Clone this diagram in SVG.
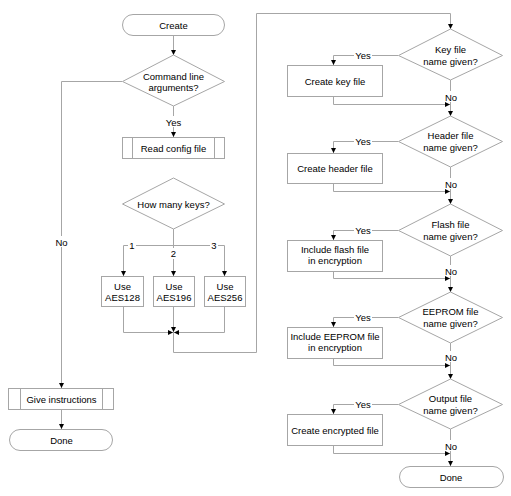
<svg xmlns="http://www.w3.org/2000/svg" width="511" height="496" viewBox="0 0 511 496">
<defs>
<style>
.s{fill:#fff;stroke:#a6a6a6;stroke-width:1}
.c{fill:none;stroke:#a6a6a6;stroke-width:1}
.a{marker-end:url(#ah)}
text{font-family:"Liberation Sans",Arial,sans-serif;font-size:9.5px;fill:#000;text-anchor:middle}
.bg{fill:#fff;stroke:none}
</style>
<marker id="ah" viewBox="0 0 6 6" refX="6" refY="3" markerWidth="5" markerHeight="5" orient="auto" markerUnits="userSpaceOnUse">
<path d="M0,0 L6,3 L0,6 z" fill="#000"/>
</marker>
</defs>
<rect width="511" height="496" fill="#fff"/>
<g id="connectors">
<path class="c a" d="M173.5,35 V55"/>
<path class="c a" d="M173.5,106 V137"/>
<path class="c a" d="M122,81.5 H61.5 V388"/>
<path class="c a" d="M61.5,409 V429"/>
<path class="c" d="M173.5,229 V245.5 M123.5,245.5 H224.5"/>
<path class="c a" d="M123.5,245.5 V276"/>
<path class="c a" d="M173.5,245.5 V276"/>
<path class="c a" d="M224.5,245.5 V276"/>
<path class="c a" d="M123.5,306 V332.5 H173"/>
<path class="c a" d="M224.5,306 V332.5 H174"/>
<path class="c a" d="M173.5,306 V332"/>
<path class="c a" d="M173.5,332 V352.5 H256.5 V13.5 H450.5 V29"/>
<path class="c a" d="M398,55.5 H333.5 V65"/>
<path class="c a" d="M333.5,97 V104.5 H450"/>
<path class="c a" d="M450.5,80 V116"/>
<path class="c a" d="M398,141.5 H333.5 V153"/>
<path class="c a" d="M333.5,183 V191.5 H450"/>
<path class="c a" d="M450.5,167 V204"/>
<path class="c a" d="M398,230.5 H333.5 V240"/>
<path class="c a" d="M333.5,271 V278.5 H450"/>
<path class="c a" d="M450.5,256 V292"/>
<path class="c a" d="M398,317.5 H333.5 V327"/>
<path class="c a" d="M333.5,358 V365.5 H450"/>
<path class="c a" d="M450.5,343 V379"/>
<path class="c a" d="M398,404.5 H333.5 V414"/>
<path class="c a" d="M333.5,445 V453.5 H450"/>
<path class="c a" d="M450.5,429 V466"/>
<rect class="bg" x="165" y="116" width="17" height="11"/>
<text x="173.5" y="125.5">Yes</text>
<rect class="bg" x="53" y="236" width="17" height="11"/>
<text x="61.5" y="245.5">No</text>
<rect class="bg" x="128" y="240" width="8" height="11"/>
<text x="132" y="248.5">1</text>
<rect class="bg" x="169" y="248" width="8" height="11"/>
<text x="173.5" y="256.5">2</text>
<rect class="bg" x="210" y="240" width="8" height="11"/>
<text x="214" y="248.5">3</text>
<rect class="bg" x="354" y="50" width="18" height="11"/>
<text x="363" y="59">Yes</text>
<rect class="bg" x="354" y="136" width="18" height="11"/>
<text x="363" y="145">Yes</text>
<rect class="bg" x="354" y="225" width="18" height="11"/>
<text x="363" y="234">Yes</text>
<rect class="bg" x="354" y="312" width="18" height="11"/>
<text x="363" y="321">Yes</text>
<rect class="bg" x="354" y="399" width="18" height="11"/>
<text x="363" y="408">Yes</text>
<rect class="bg" x="443" y="91" width="15" height="11"/>
<text x="451" y="100.5">No</text>
<rect class="bg" x="443" y="178" width="15" height="11"/>
<text x="451" y="187.5">No</text>
<rect class="bg" x="443" y="265" width="15" height="11"/>
<text x="451" y="274.5">No</text>
<rect class="bg" x="443" y="351" width="15" height="11"/>
<text x="451" y="360.5">No</text>
<rect class="bg" x="443" y="440" width="15" height="11"/>
<text x="451" y="449.5">No</text>
</g>
<g id="create">
<rect class="s" x="122.5" y="14.5" width="102" height="21" rx="10.5"/>
<text x="173.5" y="28.5">Create</text>
</g>
<g id="cmdline">
<polygon class="s" points="173.5,55 224.5,81.5 173.5,106 122.5,81.5"/>
<text x="173.5" y="79.5">Command line</text>
<text x="173.5" y="91">arguments?</text>
</g>
<g id="readconfig">
<rect class="s" x="122.5" y="137.5" width="102" height="21"/>
<path class="c" d="M132.5,137.5 V158.5 M214.5,137.5 V158.5"/>
<text x="173.5" y="151.5">Read config file</text>
</g>
<g id="howmany">
<polygon class="s" points="173.5,178 224.5,204 173.5,229 122.5,204"/>
<text x="173.5" y="207.5">How many keys?</text>
</g>
<g id="aes128">
<rect class="s" x="101.5" y="276.5" width="42" height="30"/>
<text x="122.5" y="289.5">Use</text>
<text x="122.5" y="300.5">AES128</text>
</g>
<g id="aes196">
<rect class="s" x="153.5" y="276.5" width="41" height="30"/>
<text x="174" y="289.5">Use</text>
<text x="174" y="300.5">AES196</text>
</g>
<g id="aes256">
<rect class="s" x="204.5" y="276.5" width="41" height="30"/>
<text x="225" y="289.5">Use</text>
<text x="225" y="300.5">AES256</text>
</g>
<g id="giveinstructions">
<rect class="s" x="8.5" y="388.5" width="105" height="21"/>
<path class="c" d="M20.5,388.5 V409.5 M102.5,388.5 V409.5"/>
<text x="61.5" y="402.5">Give instructions</text>
</g>
<g id="done1">
<rect class="s" x="9.5" y="429.5" width="103" height="21" rx="10.5"/>
<text x="61.5" y="443.5">Done</text>
</g>
<g id="keyq">
<polygon class="s" points="450.5,29 502.5,55.5 450.5,80 398.5,55.5"/>
<text x="450.5" y="53">Key file</text>
<text x="450.5" y="65">name given?</text>
</g>
<g id="createkey">
<rect class="s" x="287.5" y="65.5" width="95" height="31"/>
<text x="335" y="84.5">Create key file</text>
</g>
<g id="headerq">
<polygon class="s" points="450.5,116 502.5,141.5 450.5,167 398.5,141.5"/>
<text x="450.5" y="139">Header file</text>
<text x="450.5" y="151">name given?</text>
</g>
<g id="createheader">
<rect class="s" x="287.5" y="153.5" width="95" height="30"/>
<text x="335" y="172">Create header file</text>
</g>
<g id="flashq">
<polygon class="s" points="450.5,204 502.5,230.5 450.5,256 398.5,230.5"/>
<text x="450.5" y="228">Flash file</text>
<text x="450.5" y="240">name given?</text>
</g>
<g id="includeflash">
<rect class="s" x="287.5" y="240.5" width="95" height="31"/>
<text x="335" y="253">Include flash file</text>
<text x="335" y="264">in encryption</text>
</g>
<g id="eepromq">
<polygon class="s" points="450.5,292 502.5,317.5 450.5,343 398.5,317.5"/>
<text x="450.5" y="315">EEPROM file</text>
<text x="450.5" y="327">name given?</text>
</g>
<g id="includeeeprom">
<rect class="s" x="287.5" y="327.5" width="95" height="31"/>
<text x="335" y="340">Include EEPROM file</text>
<text x="335" y="351">in encryption</text>
</g>
<g id="outputq">
<polygon class="s" points="450.5,379 502.5,404.5 450.5,429 398.5,404.5"/>
<text x="450.5" y="402">Output file</text>
<text x="450.5" y="414">name given?</text>
</g>
<g id="createencrypted">
<rect class="s" x="287.5" y="414.5" width="95" height="31"/>
<text x="335" y="433.5">Create encrypted file</text>
</g>
<g id="done2">
<rect class="s" x="399.5" y="466.5" width="104" height="21" rx="10.5"/>
<text x="451" y="480.5">Done</text>
</g>
</svg>
